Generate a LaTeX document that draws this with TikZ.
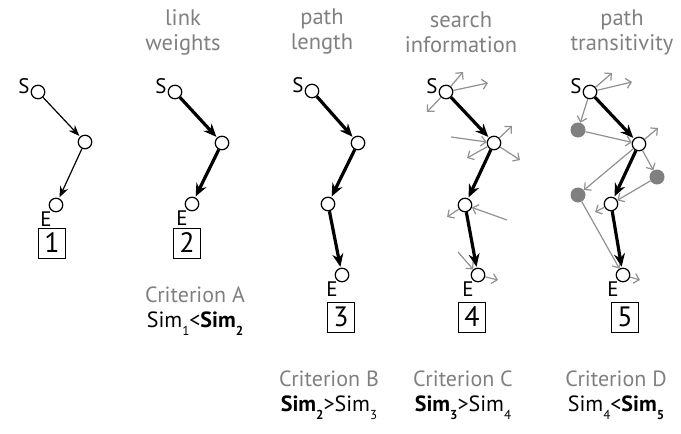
\documentclass[tikz,border=0pt]{standalone}
\usepackage{fontspec}
\setmainfont{PT Sans}
\usetikzlibrary{arrows.meta}

\definecolor{softgray}{RGB}{128,128,128}
\definecolor{wiregray}{RGB}{145,145,145}
% lowered index for the Sim labels
\newcommand{\idx}[1]{\raisebox{-0.35em}{\fontsize{13}{13}\selectfont #1}}

\begin{document}
\begin{tikzpicture}[x=1pt, y=-1pt,
    vertex/.style={circle, draw, line width=1.2pt, fill=white, inner sep=0pt, minimum size=13.5pt},
    ghost/.style={circle, fill=softgray, inner sep=0pt, minimum size=15pt},
    hop/.style={-{Stealth[length=11pt,width=8.5pt]}, line width=1.2pt, shorten >=1pt},
    bighop/.style={-{Stealth[length=13pt,width=11pt]}, line width=3.2pt, shorten >=1pt},
    probe/.style={-{Straight Barb[length=5pt,width=10pt]}, wiregray, line width=1.2pt},
    heading/.style={text=softgray, align=center, font=\fontsize{22.5}{25}\selectfont},
    crit/.style={align=center, font=\fontsize{22}{25}\selectfont},
    tag/.style={font=\fontsize{21}{21}\selectfont, inner sep=0pt},
    numbox/.style={draw, line width=1pt, minimum width=27pt, minimum height=30pt, inner sep=0pt, font=\fontsize{28}{28}\selectfont}
]
\useasboundingbox (0,0) rectangle (681,434);

% headings
\node[heading] (h2) at (183,32) {link\\weights};
\node[heading] (h3) at (322,32) {path\\length};
\node[heading] (h4) at (461,32) {search\\information};
\node[heading] (h5) at (622,32) {path\\transitivity};

% 1: plain path
\node[vertex] (s1) at (38,92) {};
\node[vertex] (m1) at (85,142) {};
\node[vertex] (e1) at (56,205) {};
\draw[hop] (s1) -- (m1);
\draw[hop] (m1) -- (e1);
\node[numbox] (b1) at (52,243) {1};

% 2: link weights
\node[vertex] (s2) at (175,92) {};
\node[vertex] (m2) at (222,143) {};
\node[vertex] (e2) at (192,204) {};
\draw[bighop] (s2) -- (m2);
\draw[bighop] (m2) -- (e2);
\node[numbox] (b2) at (187,243) {2};

% 3: path length
\node[vertex] (s3) at (312,91) {};
\node[vertex] (m3) at (358,143) {};
\node[vertex] (n3) at (328,204) {};
\node[vertex] (e3) at (342,275) {};
\draw[bighop] (s3) -- (m3);
\draw[bighop] (m3) -- (n3);
\draw[bighop] (n3) -- (e3);
\node[numbox] (b3) at (341,317) {3};

% 4: search information
\node[vertex] (s4) at (446,92) {};
\node[vertex] (m4) at (494,143) {};
\node[vertex] (n4) at (465,205) {};
\node[vertex] (e4) at (478,275) {};
\foreach \p/\x/\y in {a/463/72, b/488/83, c/427/112, d/451/137, e/512/126,
                      f/520/160, g/467/158, h/447/217, i/507/220, j/458/252, k/498/280}
    \coordinate (q\p) at (\x,\y);
\draw[probe] (s4) -- (qa);
\draw[probe] (s4) -- (qb);
\draw[probe] (s4) -- (qc);
\draw[probe] (qd) -- (m4);
\draw[probe] (m4) -- (qe);
\draw[probe] (m4) -- (qf);
\draw[probe] (m4) -- (qg);
\draw[probe] (n4) -- (qh);
\draw[probe] (qi) -- (n4);
\draw[probe] (qj) -- (e4);
\draw[probe] (e4) -- (qk);
\draw[bighop] (s4) -- (m4);
\draw[bighop] (m4) -- (n4);
\draw[bighop] (n4) -- (e4);
\node[numbox] (b4) at (472,317) {4};

% 5: path transitivity
\node[ghost] (g1) at (578,130) {};
\node[ghost] (g2) at (657,177) {};
\node[ghost] (g3) at (578,195) {};
\node[vertex] (s5) at (590,92) {};
\node[vertex] (m5) at (639,144) {};
\node[vertex] (n5) at (611,204) {};
\node[vertex] (e5) at (623,275) {};
\foreach \p/\x/\y in {a/612/73, b/632/82, c/658/128, d/595/212, e/640/280}
    \coordinate (r\p) at (\x,\y);
\draw[probe] (s5) -- (ra);
\draw[probe] (s5) -- (rb);
\draw[probe] (s5) -- (g1);
\draw[probe] (g1) -- (m5);
\draw[probe] (m5) -- (rc);
\draw[probe] (m5) -- (g2);
\draw[probe] (m5) -- (g3);
\draw[probe] (g2) -- (n5);
\draw[probe] (n5) -- (rd);
\draw[probe] (g3) -- (e5);
\draw[probe] (e5) -- (re);
\draw[bighop] (s5) -- (m5);
\draw[bighop] (m5) -- (n5);
\draw[bighop] (n5) -- (e5);
\node[numbox] (b5) at (625,317) {5};

% start and end tags
\foreach \v in {1,...,5} {
    \node[tag, anchor=south east] at ([xshift=-1pt,yshift=-2pt]s\v.west) {S};
    \node[tag, anchor=north east] at ([xshift=1pt,yshift=-1pt]e\v.south west) {E};
}

% criteria
\node[crit] (c2) at (195,311) {\textcolor{softgray}{Criterion A}\\Sim\idx{1}<\textbf{Sim\idx{2}}};
\node[crit] (c3) at (329,395) {\textcolor{softgray}{Criterion B}\\\textbf{Sim\idx{2}}>Sim\idx{3}};
\node[crit] (c4) at (463,395) {\textcolor{softgray}{Criterion C}\\\textbf{Sim\idx{3}}>Sim\idx{4}};
\node[crit] (c5) at (616,395) {\textcolor{softgray}{Criterion D}\\Sim\idx{4}<\textbf{Sim\idx{5}}};
\end{tikzpicture}
\end{document}
